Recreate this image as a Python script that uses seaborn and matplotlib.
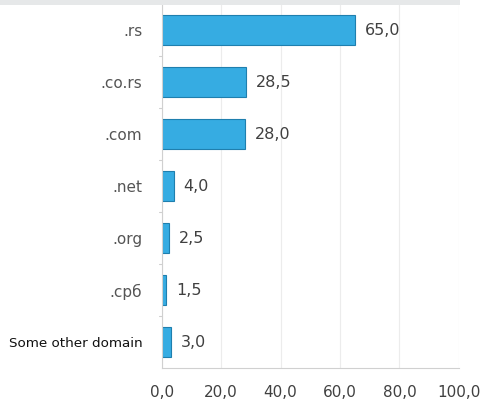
import matplotlib
matplotlib.use("Agg")
import matplotlib.pyplot as plt
import seaborn as sns
import pandas as pd
from matplotlib.patches import Rectangle

categories = [".rs", ".co.rs", ".com", ".net", ".org", ".срб", "Some other domain"]
values = [65.0, 28.5, 28.0, 4.0, 2.5, 1.5, 3.0]
xticks = [0, 20, 40, 60, 80, 100]
xtick_labels = ["0,0", "20,0", "40,0", "60,0", "80,0", "100,0"]

df = pd.DataFrame({"domain": categories, "share": values})

sns.set_style("white")
plt.rcParams["font.family"] = ["DejaVu Sans"]

fig = plt.figure(figsize=(4.83, 4.05), dpi=100)
ax = fig.add_axes([0.335, 0.091, 0.615, 0.899])

# top gray band
fig.patches.append(Rectangle((0, 0.988), 0.953, 0.012, transform=fig.transFigure,
                             facecolor="#e6e8e9", edgecolor="none", zorder=0))

sns.barplot(data=df, y="domain", x="share", orient="h", color="#36ace2",
            width=0.58, ax=ax, saturation=1, edgecolor="#1f7fae", linewidth=0.8)

ax.set_xlim(0, 100)
ax.set_ylim(len(categories) - 0.5, -0.5)
ax.set_xticks(xticks)
ax.set_xticklabels(xtick_labels, fontsize=11, color="#404040")
ax.xaxis.grid(True, color="#ececec", linewidth=0.8)
ax.set_axisbelow(True)
ax.set_xlabel("")
ax.set_ylabel("")

for s in ["top", "right"]:
    ax.spines[s].set_visible(False)
ax.spines["left"].set_color("#d0d0d0")
ax.spines["bottom"].set_color("#d0d0d0")
ax.spines["left"].set_linewidth(0.8)
ax.spines["bottom"].set_linewidth(0.8)

ax.tick_params(axis="x", length=4, color="#d0d0d0", pad=8)
ax.tick_params(axis="y", length=0, pad=14)
ylabels = ax.get_yticklabels()
for lab in ylabels:
    lab.set_color("#555555")
    lab.set_fontsize(11)
ylabels[-1].set_color("#111111")
ylabels[-1].set_fontsize(9.7)
ylabels[-1].set_bbox(dict(facecolor="white", edgecolor="none", pad=5))

# small category separator ticks on y-axis
for i in range(len(categories) - 1):
    ax.plot([-0.8, 0], [i + 0.5, i + 0.5], color="#d0d0d0", lw=0.8,
            clip_on=False, transform=ax.transData)

for cont in ax.containers:
    ax.bar_label(cont, labels=[f"{v:.1f}".replace(".", ",") for v in values],
                 padding=7, fontsize=11.5, color="#404040")

fig.savefig("out.png", dpi=100)
